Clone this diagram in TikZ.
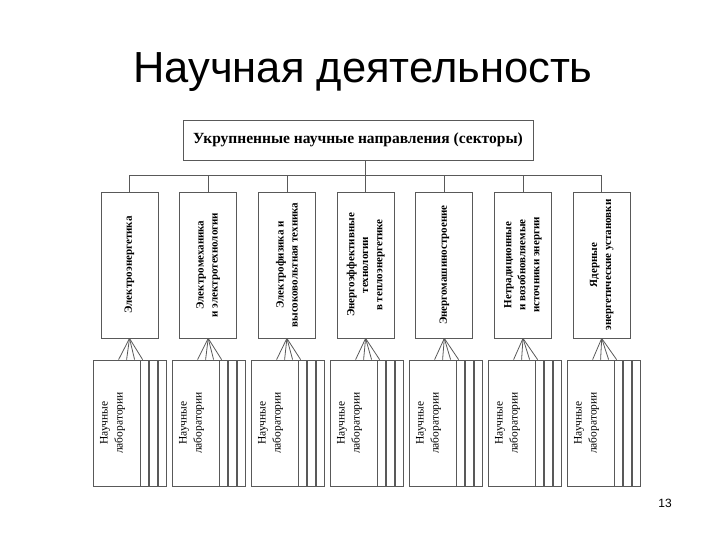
\documentclass[tikz,border=0pt]{standalone}
\usepackage{fontspec}
\setmainfont{Liberation Serif}
\newfontfamily\slidefont{Liberation Sans}
\usetikzlibrary{positioning,calc}

\begin{document}
\begin{tikzpicture}[x=1pt, y=-1pt,
    topbox/.style={draw=black!65, line width=0.8pt, minimum width=350pt, minimum height=40pt, inner sep=0pt, font=\bfseries\fontsize{15.5}{18}\selectfont},
    sector/.style={draw=black!65, line width=0.8pt, minimum width=57pt, minimum height=146pt, inner sep=0pt},
    sectortext/.style={rotate=90, align=center, font=\bfseries\fontsize{11}{14}\selectfont},
    lab/.style={draw=black!65, line width=0.8pt, minimum width=47pt, minimum height=126pt, inner sep=0pt},
    strip/.style={draw=black!65, line width=0.8pt, minimum width=8pt, minimum height=126pt, inner sep=0pt},
    labtext/.style={rotate=90, align=center, font=\fontsize{11.5}{15}\selectfont},
    link/.style={draw=black!65, line width=0.8pt}
]
    \useasboundingbox (0,0) rectangle (720,540);

    % title and page number
    \node[anchor=base, font=\slidefont\fontsize{43.5}{50}\selectfont] (title) at (363,83) {Научная деятельность};
    \node[anchor=base, font=\slidefont\fontsize{12}{14}\selectfont] (pagenum) at (665,507) {13};

    % top level
    \node[topbox] (top) at (358,140) {Укрупненные научные направления (секторы)};

    % sectors
    \node[sector] (sec1) at (129.5,265) {};
    \node[sector] (sec2) at (208.2,265) {};
    \node[sector] (sec3) at (286.9,265) {};
    \node[sector] (sec4) at (365.6,265) {};
    \node[sector] (sec5) at (444.3,265) {};
    \node[sector] (sec6) at (523.0,265) {};
    \node[sector] (sec7) at (601.7,265) {};

    \node[sectortext] (t1) at (sec1) {Электроэнергетика};
    \node[sectortext] (t2) at (sec2) {Электромеханика\\и электротехнологии};
    \node[sectortext] (t3) at (sec3) {Электрофизика и\\высоковольтная техника};
    \node[sectortext] (t4) at (sec4) {Энергоэффективные\\технологии\\в теплоэнергетике};
    \node[sectortext] (t5) at (sec5) {Энергомашиностроение};
    \node[sectortext] (t6) at (sec6) {Нетрадиционные\\и возобновляемые\\источники энергии};
    \node[sectortext] (t7) at (sec7) {Ядерные\\энергетические установки};

    % laboratories
    \node[lab] (lab1) at (116.5,423) {};
    \node[lab] (lab2) at (195.5,423) {};
    \node[lab] (lab3) at (274.5,423) {};
    \node[lab] (lab4) at (353.5,423) {};
    \node[lab] (lab5) at (432.5,423) {};
    \node[lab] (lab6) at (511.5,423) {};
    \node[lab] (lab7) at (590.5,423) {};

    \foreach \i in {1,...,7}{
        \node[labtext] (lt\i) at ($(lab\i)+(-4,0)$) {Научные\\лаборатории};
        \node[strip, right=0pt of lab\i] (lab\i a) {};
        \node[strip, right=0pt of lab\i a] (lab\i b) {};
        \node[strip, right=0pt of lab\i b] (lab\i c) {};
    }

    % connectors
    \draw[link] (sec4.north |- top.south) -- (sec4.north);
    \draw[link] (sec1.north) -- ++(0,-16) -| (sec7.north);
    \foreach \i in {2,...,6}
        \draw[link] (sec\i.north) -- ++(0,-16);

    \foreach \i in {1,...,7}{
        \foreach \k in {0,...,3}
            \draw[link] (sec\i.south) -- ($(lab\i.north west)+(26+8*\k,0)$);
    }
\end{tikzpicture}
\end{document}
